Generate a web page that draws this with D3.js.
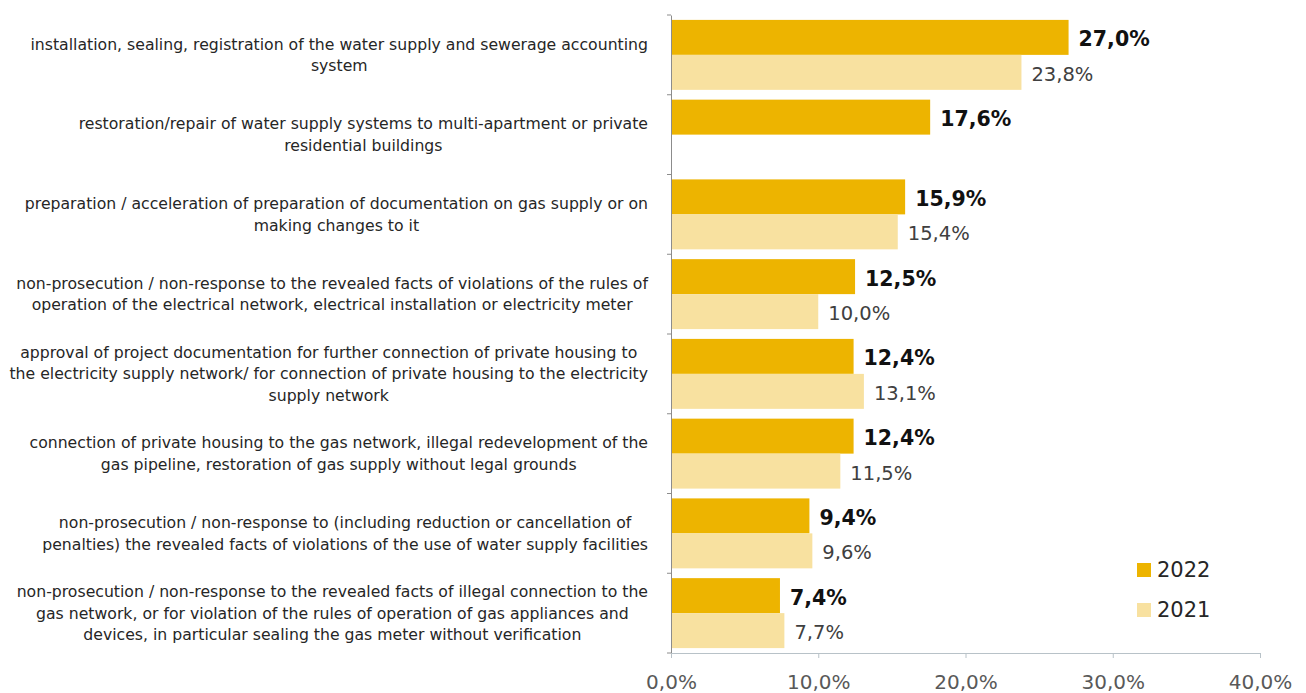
<!DOCTYPE html>
<html>
<head>
<meta charset="utf-8">
<script src="https://cdn.jsdelivr.net/npm/d3@7"></script>
<style>
  html, body { margin: 0; padding: 0; background: #fff; }
  svg { display: block; }
  text { font-family: "DejaVu Sans", sans-serif; }
</style>
</head>
<body>
<svg id="chart" width="1306" height="693"></svg>
<script>
const categories = [
  "installation, sealing, registration of the water supply and sewerage accounting\nsystem",
  "restoration/repair of water supply systems to multi-apartment or private\nresidential buildings",
  "preparation / acceleration of preparation of documentation on gas supply or on\nmaking changes to it",
  "non-prosecution / non-response to the revealed facts of violations of the rules of\noperation of the electrical network, electrical installation or electricity meter",
  "approval of project documentation for further connection of private housing to\nthe electricity supply network/ for connection of private housing to the electricity\nsupply network",
  "connection of private housing to the gas network, illegal redevelopment of the\ngas pipeline, restoration of gas supply without legal grounds",
  "non-prosecution / non-response to (including reduction or cancellation of\npenalties) the revealed facts of violations of the use of water supply facilities",
  "non-prosecution / non-response to the revealed facts of illegal connection to the\ngas network, or for violation of the rules of operation of gas appliances and\ndevices, in particular sealing the gas meter without verification"
];
const seriesNames = ["2022", "2021"];
const values2022 = [27.0, 17.6, 15.9, 12.5, 12.4, 12.4, 9.4, 7.4];
const values2021 = [23.8, null, 15.4, 10.0, 13.1, 11.5, 9.6, 7.7];
const xTicks = [0, 10, 20, 30, 40];

const colors = { "2022": "#EDB400", "2021": "#F8E1A0" };
const fmt = v => v.toFixed(1).replace(".", ",") + "%";

const svg = d3.select("#chart");
const mLeft = 671, mRight = 1260, mTop = 15, mBottom = 653;

const x = d3.scaleLinear().domain([0, 40]).range([mLeft, mRight]);
const y = d3.scaleBand().domain(categories).range([mTop, mBottom]).padding(0);
const yInner = d3.scaleBand().domain(seriesNames).range([0, y.bandwidth()]).paddingInner(0).paddingOuter(0.14);

const rows = [];
categories.forEach((c, i) => {
  rows.push({ cat: c, year: "2022", v: values2022[i] });
  rows.push({ cat: c, year: "2021", v: values2021[i] });
});
const data = rows.filter(d => d.v != null);

// bars
svg.append("g").selectAll("rect").data(data).join("rect")
  .attr("x", x(0))
  .attr("y", d => y(d.cat) + yInner(d.year))
  .attr("width", d => x(d.v) - x(0))
  .attr("height", yInner.bandwidth())
  .attr("fill", d => colors[d.year]);

// value labels
svg.append("g").selectAll("text").data(data).join("text")
  .attr("x", d => x(d.v) + 10)
  .attr("y", d => y(d.cat) + yInner(d.year) + yInner.bandwidth() / 2 + 3)
  .attr("dominant-baseline", "middle")
  .attr("font-size", d => d.year === "2022" ? 20.5 : 19.5)
  .attr("font-weight", d => d.year === "2022" ? "bold" : "normal")
  .attr("fill", d => d.year === "2022" ? "#111" : "#404040")
  .text(d => fmt(d.v));

// y axis
const yAxis = svg.append("g")
  .attr("transform", `translate(${mLeft},0)`)
  .call(d3.axisLeft(y).tickSize(0).tickFormat(""));
yAxis.select(".domain").attr("stroke", "#8c8c8c");
// boundary ticks
svg.append("g").selectAll("line").data(d3.range(categories.length + 1)).join("line")
  .attr("x1", mLeft - 4).attr("x2", mLeft)
  .attr("y1", i => mTop + i * y.step()).attr("y2", i => mTop + i * y.step())
  .attr("stroke", "#8c8c8c");

// x axis
const xAxis = svg.append("g")
  .attr("transform", `translate(0,${mBottom})`)
  .call(d3.axisBottom(x).tickValues(xTicks).tickSize(5).tickPadding(17).tickFormat(d => fmt(d)));
xAxis.select(".domain").attr("stroke", "#b8c2c8");
xAxis.selectAll(".tick line").attr("stroke", "#b8c2c8");
xAxis.selectAll(".tick text").attr("font-size", 20).attr("fill", "#595959")
  .style("font-family", '"DejaVu Sans", sans-serif');

// category labels
const labelRight = 648, lineH = 21.5;
const lg = svg.append("g");
categories.forEach(c => {
  const lines = c.split("\n");
  const g = lg.append("g");
  const texts = lines.map(l => g.append("text").attr("font-size", 15.7).attr("fill", "#262626")
    .attr("text-anchor", "middle").text(l));
  const w = d3.max(texts, t => t.node().getComputedTextLength());
  const cx = labelRight - w / 2;
  const cy = y(c) + y.bandwidth() / 2 + 1;
  texts.forEach((t, i) => {
    t.attr("x", cx).attr("y", cy + (i - (lines.length - 1) / 2) * lineH)
      .attr("dominant-baseline", "middle");
  });
});

// legend
const leg = svg.append("g");
seriesNames.forEach((s, i) => {
  const yy = 570 + i * 40;
  leg.append("rect").attr("x", 1137).attr("y", yy - 7).attr("width", 14).attr("height", 14).attr("fill", colors[s]);
  leg.append("text").attr("x", 1157).attr("y", yy + 1).attr("dominant-baseline", "middle")
    .attr("font-size", 21).attr("fill", "#262626").text(s);
});
</script>
</body>
</html>
